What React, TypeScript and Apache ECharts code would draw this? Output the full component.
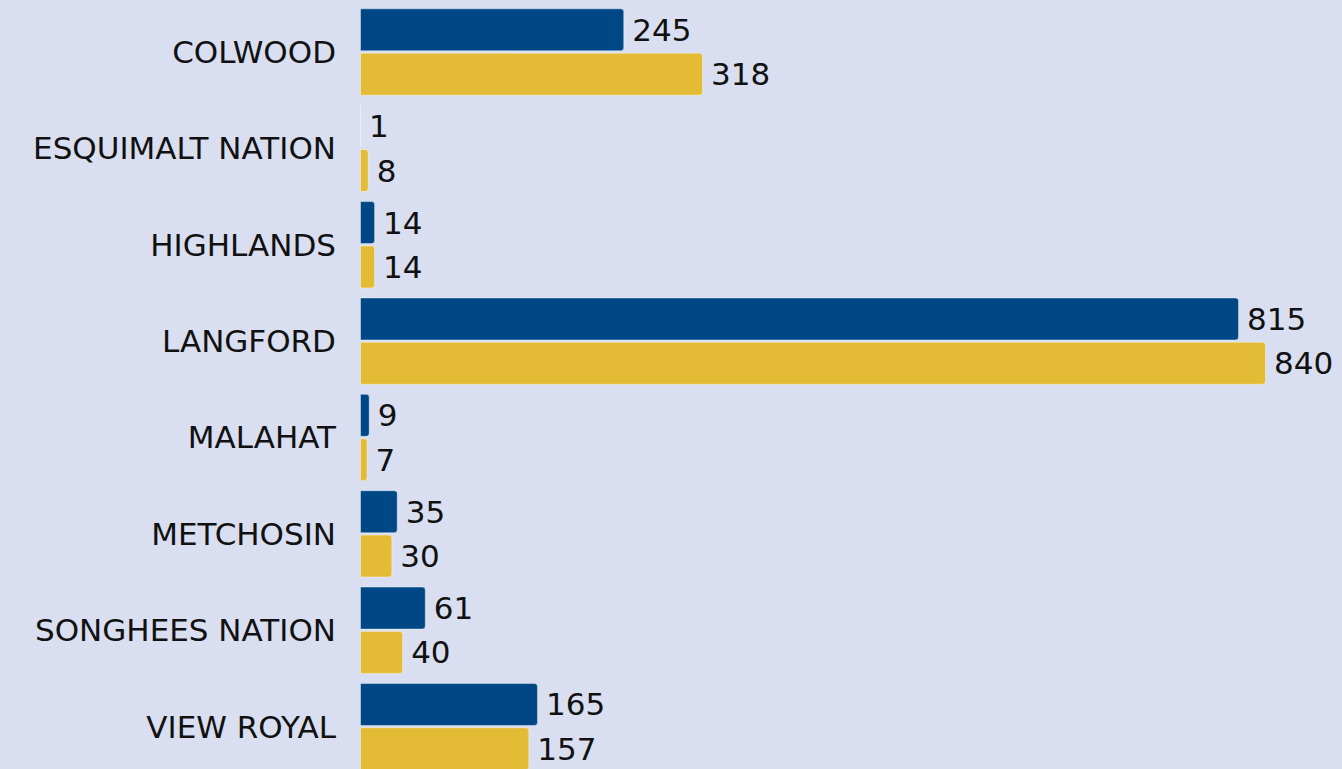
import React, { useEffect, useRef } from "react";
import * as echarts from "echarts";

const categories = [
  "COLWOOD",
  "ESQUIMALT NATION",
  "HIGHLANDS",
  "LANGFORD",
  "MALAHAT",
  "METCHOSIN",
  "SONGHEES NATION",
  "VIEW ROYAL",
];
const seriesA = [245, 1, 14, 815, 9, 35, 61, 165];
const seriesB = [318, 8, 14, 840, 7, 30, 40, 157];

const FONT = "'DejaVu Sans', sans-serif";

export default function App() {
  const ref = useRef<HTMLDivElement>(null);
  useEffect(() => {
    const chart = echarts.init(ref.current!, undefined, { renderer: "svg" });
    const labelStyle = {
      show: true,
      position: "right" as const,
      distance: 8,
      color: "#111",
      fontSize: 31,
      fontFamily: FONT,
    };
    chart.setOption({
      animation: false,
      backgroundColor: "#d9dff0",
      grid: { left: 360, top: 3.8, width: 970.7, height: 771 },
      xAxis: { type: "value", min: 0, max: 900, show: false },
      yAxis: {
        type: "category",
        data: categories,
        inverse: true,
        axisLine: { show: false },
        axisTick: { show: false },
        splitLine: { show: false },
        axisLabel: { color: "#111", fontSize: 31, fontFamily: FONT, margin: 24 },
      },
      series: [
        {
          type: "bar",
          data: seriesA,
          barWidth: 43,
          barGap: "3%",
          itemStyle: {
            color: "#004785",
            borderRadius: [0, 3, 3, 0],
            borderColor: "rgba(255,255,255,0.4)",
            borderWidth: 1,
          },
          label: labelStyle,
        },
        {
          type: "bar",
          data: seriesB,
          barWidth: 43,
          barGap: "3%",
          itemStyle: {
            color: "#e4bb34",
            borderRadius: [0, 3, 3, 0],
            borderColor: "rgba(255,255,255,0.4)",
            borderWidth: 1,
          },
          label: labelStyle,
        },
      ],
    });
    return () => chart.dispose();
  }, []);
  return (
    <div style={{ position: "fixed", left: 0, top: 0, width: 1342, height: 769, overflow: "hidden" }}>
      <div ref={ref} style={{ width: 1342, height: 780 }} />
    </div>
  );
}
